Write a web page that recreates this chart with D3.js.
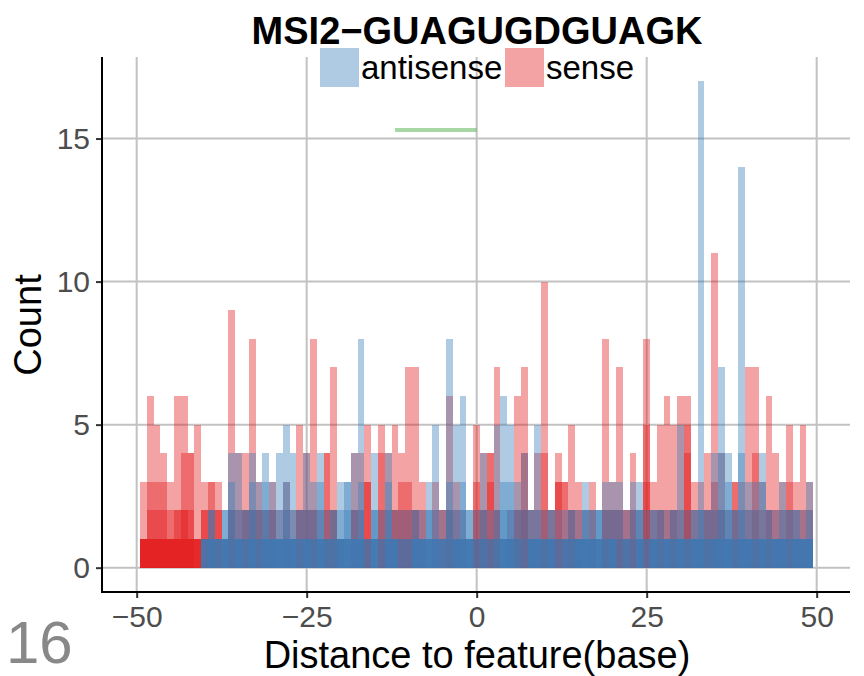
<!DOCTYPE html>
<html><head><meta charset="utf-8">
<script src="https://cdn.jsdelivr.net/npm/d3@7"></script>
<style>body{margin:0;background:#fff}svg{display:block}</style>
</head><body><svg id="c" width="864" height="676"></svg>
<script>
// ---- data ----
const titleText = "MSI2\u2212GUAGUGDGUAGK";
const seriesNames = ["antisense", "sense"];
const binCentres = d3.range(-49, 50); // bin centres, width 1
// per-bin counts for each overlaid sample (sense)
const senseBins = [
[3,1,1,1,1,1],[6,3,2,1,1,1],[5,3,2,1,1,1],[4,3,2,1,1,1],[3,2,1,1,1,1],[6,2,2,1,1,1],[6,4,2,2,1,1],[4,4,2,1,1,1],[5,1,1,1,1],
[3,2,2,1,1],[3,3,2,1,1],[3,2,2,1,1],[1,1,1],[9,2,2,1,1],[4,2,1,1],[4,2,2,1,1],[8,2,2,1],[3,2,2,1,1],[2,2,1,1],[3,2,2,1],
[2,1,1],[3,2,1,1],[2,1,1],[5,2,2,1,1],[4,2,2,1],[8,2,2,1,1],[2,1,1],[4,4,2,1,1],[7,2,2,1,1],[1,1,1],
[1,1],[4,2,2,1],[4,2,1,1],[5,3,3,1,1],[1,1],[5,4,2,1,1],[4,2,1,1],[5,2,2,1],[4,3,2,1,1],[7,3,2,1,1],
[7,2,2,1],[3,2,1,1],[1,1],[3,2,1,1],[2,2,1],[6,2,2,1,1],[3,2,1,1],[2,1,1],[1,1],[5,3,2,1,1],
[4,2,2,1,1],[4,4,3,1,1],[7,2,2,1,1],[1,1],[2,1,1],[6,2,2,1,1],[7,4,2,2,1],[2,2,1,1],[4,2,1,1],[10,4,2,1,1],
[2,2,1,1],[4,3,3,1,1],[3,3,1,1],[5,2,2,1,1],[3,2,1,1],[2,1,1],[3,2,1,1],[1,1],[8,2,2,1,1],[3,2,2,1],
[7,2,2,1,1],[2,2,1,1],[4,2,2,1,1],[2,1,1],[8,5,3,2,1],[3,2,1,1],[5,2,2,1,1],[6,2,1,1],[5,2,2,1,1],[6,2,1,1],
[6,5,4,2,1],[3,2,1,1],[3,2,1,1],[4,2,2,1,1],[11,3,2,1,1],[4,2,2,1],[2,1,1],[3,3,2,1,1],[3,2,1,1],[7,2,1,1],
[7,4,2,1,1],[3,2,1,1],[6,2,2,1,1],[4,2,1,1],[3,2,1,1],[5,3,2,1,1],[3,2,1,1],[5,2,1,1],[3,2,1,1]
];
// per-bin counts for each overlaid sample (antisense)
const antisenseBins = [
[],[],[],[],[],[],[],[],[],
[1,1,1,1],[2,2,1,1,1],[1,1,1,1],[2,2,1,1,1],[4,3,2,1],[4,2,1,1,1],[2,2,1,1],[4,3,2,1,1],[3,2,1,1],[4,3,2,1,1],[3,2,1,1,1],
[4,2,1,1,1],[5,3,2,1,1],[4,2,1,1,1],[2,2,1,1],[4,2,1,1,1],[3,2,1,1],[4,3,2,1,1],[2,1,1,1],[2,2,1,1],[3,2,1,1,1],
[3,3,2,1,1],[4,2,1,1,1],[8,3,2,1,1],[1,1,1],[4,2,2,1,1],[2,1,1],[4,3,2,1,1],[2,1,1,1,1],[2,1,1],[2,1,1],
[2,2,1,1,1],[2,1,1,1,1],[3,2,2,1,1],[5,2,1,1,1],[2,1,1,1],[8,3,2,1],[5,2,1,1,1],[6,3,2,1,1],[2,2,1,1,1],[2,1,1],
[4,2,1,1],[2,1,1],[5,2,1,1],[6,3,2,1,1],[5,3,2,1,1],[3,2,1,1],[4,2,1],[2,2,1,1,1],[5,2,1,1,1],[2,1,1,1],
[2,2,1,1,1],[2,1,1],[2,1,1,1],[2,2,1,1],[2,1,1,1,1],[3,2,2,1,1],[2,2,1,1,1],[2,2,2,1,1],[3,2,1,1],[3,2,1,1,1],
[3,2,1],[2,1,1,1],[3,2,1],[3,2,2,1,1],[2,1,1],[2,2,1,1,1],[2,2,1,1],[2,1,1,1,1],[2,2,1,1],[5,2,1,1,1],
[2,1,1,1],[2,2,1,1,1],[17,2,2,1,1],[2,2,1,1],[4,2,1,1,1],[7,4,2,1,1],[4,3,2,1,1],[2,2,1,1],[14,4,2,1,1],[3,2,1,1,1],
[3,2,1,1],[4,3,1,1,1],[2,2,1,1],[2,1,1,1,1],[3,2,1,1,1],[2,2,1,1],[2,2,1,1,1],[2,1,1,1,1],[3,2,1,1,1]
];
const xTicks = [-50, -25, 0, 25, 50];
const yTicks = [0, 5, 10, 15];
const motifStart = -12, motifEnd = 0, motifLevel = 15.3;
const xLabel = "Distance to feature(base)";
const yLabel = "Count";
const cornerLabel = "16";

// ---- styles ----
const colors = {antisense: "#377EB8", sense: "#E41A1C"};
const svg = d3.select("#c");
const font = "'Liberation Sans', Arial, Helvetica, sans-serif";

const x = d3.scaleLinear().domain([-55.1, 54.9]).range([102, 850]);
const y = d3.scaleLinear().domain([-0.85, 17.85]).range([592, 57]);

// gridlines
const grid = svg.append("g");
grid.selectAll("line.v").data(xTicks).enter().append("line")
  .attr("x1", d => x(d)).attr("x2", d => x(d)).attr("y1", 57).attr("y2", 592)
  .attr("stroke", "#c2c2c2").attr("stroke-width", 2);
grid.selectAll("line.h").data(yTicks).enter().append("line")
  .attr("x1", 102).attr("x2", 850).attr("y1", d => y(d)).attr("y2", d => y(d))
  .attr("stroke", "#c2c2c2").attr("stroke-width", 2);

// bars: sense first, antisense on top
function drawSeries(bins, name) {
  const rects = [];
  bins.forEach((layers, i) => {
    const c = binCentres[i];
    layers.forEach(v => { if (v > 0) rects.push({c, v}); });
  });
  svg.append("g").attr("class", name).selectAll("rect").data(rects).enter().append("rect")
    .attr("x", d => x(d.c - 0.5))
    .attr("width", d => x(d.c + 0.5) - x(d.c - 0.5))
    .attr("y", d => y(d.v))
    .attr("height", d => y(0) - y(d.v))
    .attr("fill", colors[name]).attr("fill-opacity", 0.4)
    .attr("shape-rendering", "crispEdges");
}
drawSeries(senseBins, "sense");
drawSeries(antisenseBins, "antisense");

// motif segment
svg.append("line")
  .attr("x1", x(motifStart)).attr("x2", x(motifEnd))
  .attr("y1", y(motifLevel)).attr("y2", y(motifLevel))
  .attr("stroke", "#4DAF4A").attr("stroke-opacity", 0.5).attr("stroke-width", 4);

// axes
const xAxis = d3.axisBottom(x).tickValues(xTicks).tickSize(6).tickPadding(8)
  .tickFormat(d => d < 0 ? "\u2212" + Math.abs(d) : d);
const gx = svg.append("g").attr("transform", "translate(0,592)").call(xAxis);
gx.select(".domain").remove();
gx.selectAll(".tick line").attr("stroke", "#333").attr("stroke-width", 2);
gx.selectAll(".tick text").attr("fill", "#4d4d4d").style("font-family", font).style("font-size", "30px")
  .attr("dy", "0.71em");

const yAxis = d3.axisLeft(y).tickValues(yTicks).tickSize(6).tickPadding(6);
const gy = svg.append("g").attr("transform", "translate(102,0)").call(yAxis);
gy.select(".domain").remove();
gy.selectAll(".tick line").attr("stroke", "#333").attr("stroke-width", 2);
gy.selectAll(".tick text").attr("fill", "#4d4d4d").style("font-family", font).style("font-size", "30px");

// axis lines
svg.append("line").attr("x1", 102).attr("x2", 102).attr("y1", 57).attr("y2", 593)
  .attr("stroke", "#000").attr("stroke-width", 2);
svg.append("line").attr("x1", 101).attr("x2", 850).attr("y1", 592).attr("y2", 592)
  .attr("stroke", "#000").attr("stroke-width", 2);

// title
svg.append("text").attr("x", 477).attr("y", 44).attr("text-anchor", "middle")
  .style("font-family", font).style("font-weight", "bold").style("font-size", "38px")
  .text(titleText);

// legend
const legend = [{name: "antisense", x: 320}, {name: "sense", x: 505}];
legend.forEach(l => {
  svg.append("rect").attr("x", l.x).attr("y", 48).attr("width", 39).attr("height", 39)
    .attr("fill", colors[l.name]).attr("fill-opacity", 0.4);
  svg.append("text").attr("x", l.x + 41).attr("y", 79)
    .style("font-family", font).style("font-size", "33px").text(l.name);
});

// axis titles
svg.append("text").attr("x", 477).attr("y", 668).attr("text-anchor", "middle")
  .style("font-family", font).style("font-size", "38px").text(xLabel);
svg.append("text").attr("transform", "translate(41,325) rotate(-90)").attr("text-anchor", "middle")
  .style("font-family", font).style("font-size", "38px").text(yLabel);

// corner label
svg.append("text").attr("x", 6).attr("y", 663)
  .style("font-family", font).style("font-size", "60px").attr("fill", "#888").text(cornerLabel);
</script>
</body></html>
